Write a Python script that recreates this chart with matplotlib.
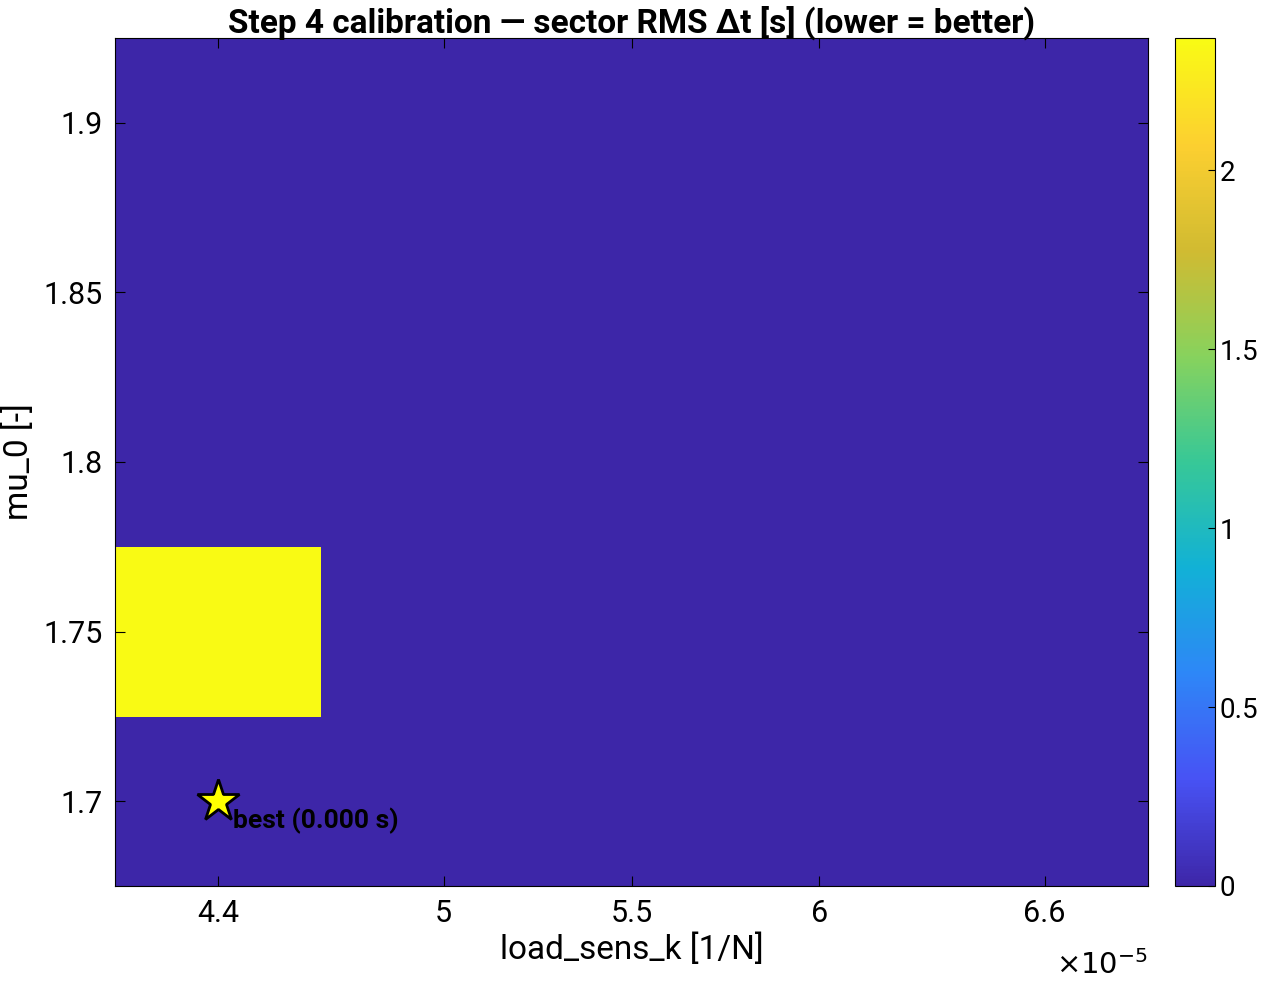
import numpy as np
import matplotlib
matplotlib.use("Agg")
import matplotlib.pyplot as plt
from matplotlib.colors import LinearSegmentedColormap

k_vals = [4.4e-5, 4.95e-5, 5.5e-5, 6.05e-5, 6.6e-5]
mu_vals = [1.70, 1.75, 1.80, 1.85, 1.90]
# rows = mu, cols = k
rms = np.array([
    [0.0, 0.0, 0.0, 0.0, 0.0],
    [2.37, 0.0, 0.0, 0.0, 0.0],
    [0.0, 0.0, 0.0, 0.0, 0.0],
    [0.0, 0.0, 0.0, 0.0, 0.0],
    [0.0, 0.0, 0.0, 0.0, 0.0],
])
best_k, best_mu, best_val = 4.4e-5, 1.70, 0.000

parula = LinearSegmentedColormap.from_list("parula", [
    (0.2422, 0.1504, 0.6603), (0.2810, 0.3228, 0.9579), (0.1786, 0.5289, 0.9682),
    (0.0689, 0.6948, 0.8394), (0.2161, 0.7843, 0.5923), (0.5300, 0.8249, 0.3645),
    (0.8185, 0.7327, 0.1935), (0.9892, 0.8136, 0.1885), (0.9769, 0.9839, 0.0805)])

plt.rcParams['font.family'] = ['Roboto', 'DejaVu Sans']
fig = plt.figure(figsize=(12.67, 9.82), dpi=100)
W, H = 1267, 982
ax = fig.add_axes([115/W, 1-886/H, (1148-115)/W, (886-38)/H])
cax = fig.add_axes([1175/W, 1-886/H, 40/W, (886-38)/H])

k = np.array(k_vals); mu = np.array(mu_vals)
dk = k[1]-k[0]; dm = mu[1]-mu[0]
im = ax.imshow(rms, origin='lower', cmap=parula, vmin=0, vmax=rms.max(),
               extent=[k[0]-dk/2, k[-1]+dk/2, mu[0]-dm/2, mu[-1]+dm/2], aspect='auto')
ax.plot(best_k, best_mu, marker='*', markersize=32, markerfacecolor='yellow',
        markeredgecolor='black', markeredgewidth=2, linestyle='none')
ax.text(best_k + 0.04e-5, best_mu - 0.002, f"best ({best_val:.3f} s)", fontsize=19,
        fontweight='bold', va='top', ha='left')

ax.set_xticks([4.4e-5, 5e-5, 5.5e-5, 6e-5, 6.6e-5])
ax.set_xticklabels(['4.4', '5', '5.5', '6', '6.6'])
ax.set_yticks([1.70, 1.75, 1.80, 1.85, 1.90])
ax.set_yticklabels(['1.7', '1.75', '1.8', '1.85', '1.9'])
ax.tick_params(direction='in', top=True, right=True, labelsize=22, length=7, pad=9)
ax.text(1.0, -0.075, r'$\times10^{-5}$', transform=ax.transAxes, ha='right', va='top', fontsize=21)
ax.set_xlabel('load_sens_k [1/N]', fontsize=24, labelpad=4)
ax.set_ylabel('mu_0 [-]', fontsize=24, labelpad=6)
ax.set_title('Step 4 calibration — sector RMS Δt [s] (lower = better)', fontsize=24,
             fontweight='bold', pad=4)

cb = fig.colorbar(im, cax=cax)
cb.set_ticks([0, 0.5, 1, 1.5, 2])
cb.set_ticklabels(['0', '0.5', '1', '1.5', '2'])
cax.tick_params(direction='in', labelsize=20, length=5)
fig.savefig('out.png', dpi=100)
